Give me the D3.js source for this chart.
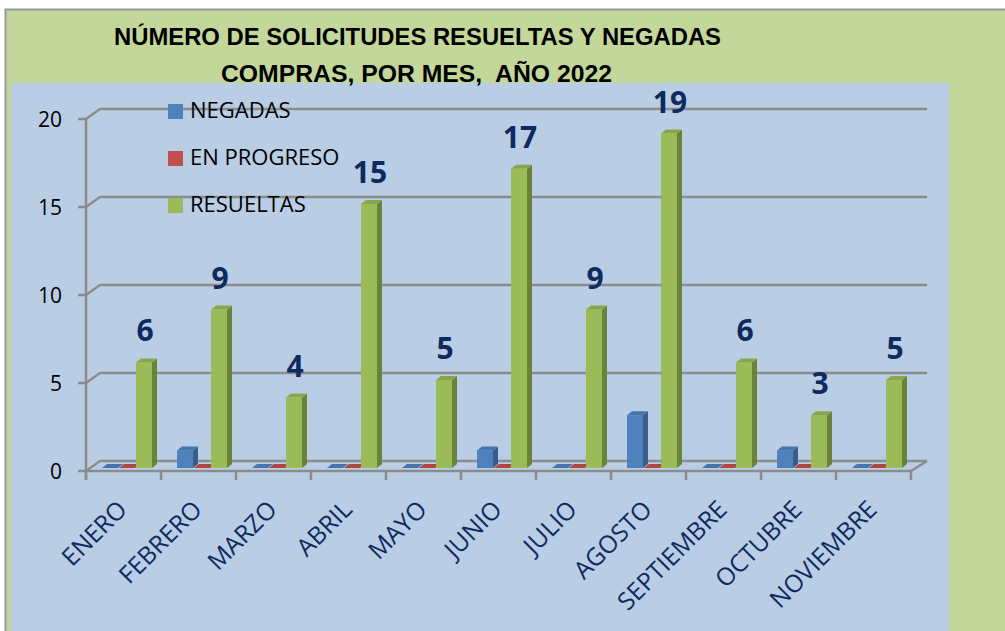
<!DOCTYPE html>
<html>
<head>
<meta charset="utf-8">
<script src="https://cdn.jsdelivr.net/npm/d3@7"></script>
<style>
  html, body { margin: 0; padding: 0; background: #fff; }
  svg { display: block; }
  text { white-space: pre; }
</style>
</head>
<body>
<div id="chart"></div>
<script>
// data
const months = ["ENERO", "FEBRERO", "MARZO", "ABRIL", "MAYO", "JUNIO", "JULIO", "AGOSTO", "SEPTIEMBRE", "OCTUBRE", "NOVIEMBRE"];
const seriesNames = ["NEGADAS", "EN PROGRESO", "RESUELTAS"];
const negadas = [0, 1, 0, 0, 0, 1, 0, 3, 0, 1, 0];
const enProgreso = [0, 0, 0, 0, 0, 0, 0, 0, 0, 0, 0];
const resueltas = [6, 9, 4, 15, 5, 17, 9, 19, 6, 3, 5];
const yTicks = [0, 5, 10, 15, 20];
const titleLines = ["NÚMERO DE SOLICITUDES RESUELTAS Y NEGADAS", "COMPRAS, POR MES,  AÑO 2022"];

const W = 1005, H = 631;
const colors = {
  "NEGADAS": { front: "#4f81bd", top: "#4675ad", side: "#385d8a" },
  "EN PROGRESO": { front: "#c0504d", top: "#b04541", side: "#8c3836" },
  "RESUELTAS": { front: "#9bbb59", top: "#88a74a", side: "#6b8238" }
};
const values = { "NEGADAS": negadas, "EN PROGRESO": enProgreso, "RESUELTAS": resueltas };

const svg = d3.select("#chart").append("svg")
  .attr("width", W).attr("height", H);

// chart area + plot area backgrounds
svg.append("rect").attr("x", 5.5).attr("y", 9.5).attr("width", W).attr("height", H)
  .attr("fill", "#c4d79b").attr("stroke", "#9a9a9a").attr("stroke-width", 2);
svg.append("rect").attr("x", 11).attr("y", 83).attr("width", 938).attr("height", H - 83)
  .attr("fill", "#b9cde5");

// title
const titleFont = "'Liberation Sans Narrow', 'Liberation Sans', sans-serif";
svg.append("text").attr("x", 417.5).attr("y", 45)
  .attr("text-anchor", "middle").attr("font-family", titleFont)
  .attr("font-weight", "bold").attr("font-size", 24)
  .attr("textLength", 607).attr("lengthAdjust", "spacingAndGlyphs")
  .text(titleLines[0]);
svg.append("text").attr("x", 416.5).attr("y", 82)
  .attr("text-anchor", "middle").attr("font-family", titleFont)
  .attr("font-weight", "bold").attr("font-size", 24)
  .attr("textLength", 391).attr("lengthAdjust", "spacingAndGlyphs")
  .text(titleLines[1]);

// 3d geometry
const depthX = 14, depthY = 10;       // wall depth
const x0 = 86, x1 = 911;
const yFront = d3.scaleLinear().domain([0, 20]).range([471, 119]);
const yBack = d3.scaleLinear().domain([0, 20]).range([461, 109]);
const yBar = d3.scaleLinear().domain([0, 20]).range([468, 116]);

const x = d3.scaleBand().domain(months).range([x0, x1]).padding(0);
const sub = d3.scaleBand().domain(seriesNames).range([16, 67]).padding(0);
const barW = 16, barDX = 5, barDY = 4;

const gridColor = "#8c8c8c";
const grid = svg.append("g").attr("stroke", gridColor).attr("stroke-width", 2.5)
  .attr("fill", "none").attr("stroke-linejoin", "round");

yTicks.forEach(v => {
  grid.append("path").attr("d", d3.line()([
    [x0 - 8, yFront(v)], [x0, yFront(v)], [x0 + depthX, yBack(v)], [x1 + depthX + 2, yBack(v)]
  ]));
});
// vertical axis
grid.append("line").attr("x1", x0).attr("x2", x0)
  .attr("y1", yFront(20)).attr("y2", yFront(0) + 9);
// floor front edge and right edge
grid.append("path").attr("d", d3.line()([
  [x0, yFront(0)], [x1, yFront(0)], [x1 + depthX + 2, yBack(0)]
]));
// category ticks
d3.range(months.length + 1).forEach(i => {
  const tx = x0 + i * x.step();
  grid.append("line").attr("x1", tx).attr("x2", tx)
    .attr("y1", yFront(0)).attr("y2", yFront(0) + 9);
});

// y tick labels
svg.append("g").selectAll("text").data(yTicks).join("text")
  .attr("x", 62).attr("y", d => yFront(d))
  .attr("dy", "0.36em")
  .attr("text-anchor", "end")
  .attr("font-family", "'Open Sans', sans-serif").attr("font-size", 21)
  .attr("fill", "#000")
  .text(d => d);

// bars
const barsG = svg.append("g");
seriesNames.forEach(name => {
  const c = colors[name];
  months.forEach((m, i) => {
    const v = values[name][i];
    const bx = x(m) + sub(name);
    const top = yBar(v), base = yBar(0);
    const g = barsG.append("g");
    g.append("rect").attr("x", bx).attr("y", top).attr("width", barW)
      .attr("height", base - top).attr("fill", c.front);
    g.append("path").attr("fill", c.side).attr("d", d3.line()([
      [bx + barW, top], [bx + barW + barDX, top - barDY],
      [bx + barW + barDX, base - barDY], [bx + barW, base]
    ]) + "Z");
    g.append("path").attr("fill", c.top).attr("d", d3.line()([
      [bx, top], [bx + barDX, top - barDY],
      [bx + barW + barDX, top - barDY], [bx + barW, top]
    ]) + "Z");
  });
});

// data labels on RESUELTAS
svg.append("g").selectAll("text").data(resueltas).join("text")
  .attr("x", (d, i) => x(months[i]) + sub("RESUELTAS") + barW / 2 + 1)
  .attr("y", d => yBar(d) - 21)
  .attr("text-anchor", "middle")
  .attr("font-family", "'Open Sans', sans-serif").attr("font-weight", "bold")
  .attr("font-size", 30).attr("fill", "#0e2a5e")
  .text(d => d);

// category labels
svg.append("g").selectAll("text").data(months).join("text")
  .attr("transform", d => `translate(${x(d) + x.bandwidth() / 2 + 5},511) rotate(-45)`)
  .attr("text-anchor", "end")
  .attr("font-family", "'Open Sans', sans-serif").attr("font-size", 24.5)
  .attr("fill", "#0e2a5e")
  .text(d => d);

// legend
const legend = svg.append("g");
seriesNames.forEach((name, i) => {
  legend.append("rect").attr("x", 168).attr("y", 104 + i * 47)
    .attr("width", 15).attr("height", 15).attr("fill", colors[name].front);
  legend.append("text").attr("x", 190).attr("y", 118 + i * 47)
    .attr("font-family", "'Open Sans', sans-serif").attr("font-size", 22)
    .attr("fill", "#000").text(name);
});
</script>
</body>
</html>
